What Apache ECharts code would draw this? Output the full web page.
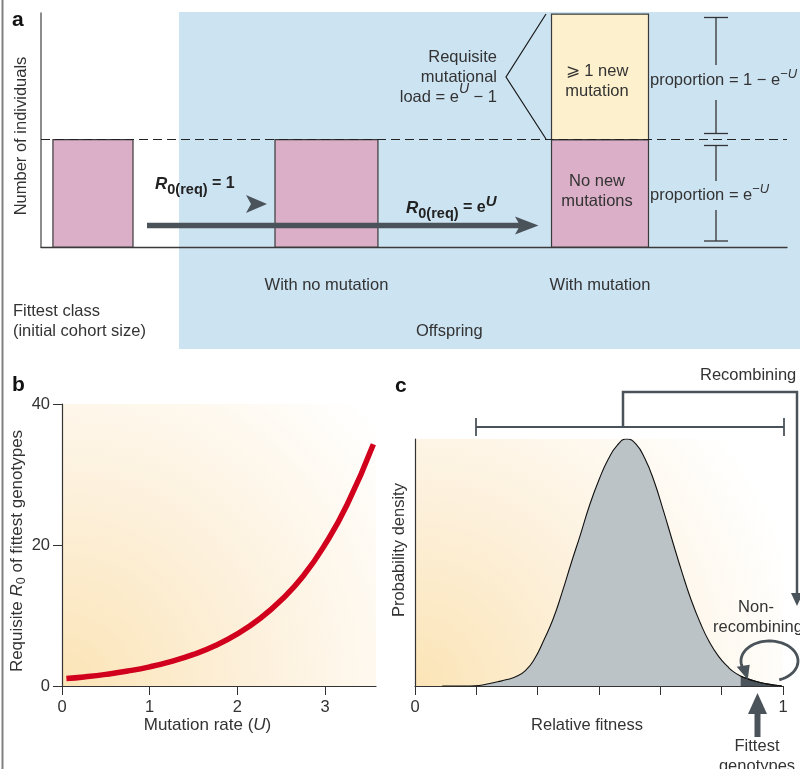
<!DOCTYPE html>
<html><head><meta charset="utf-8">
<script src="https://cdn.jsdelivr.net/npm/echarts@6/dist/echarts.min.js"></script>
<style>html,body{margin:0;padding:0;background:#fff}#chart{width:800px;height:769px}</style>
</head><body><div id="chart"></div>
<script>
// ---------- Panel a : cohort sizes ----------
const stageNames = ['Fittest class\n(initial cohort size)', 'With no mutation', 'With mutation'];
const noNewMutationCount = [1, 1, 1];
const newMutationCount = [0, 0, 1.17];

// ---------- Panel b : requisite R0 vs mutation rate ----------
const mutationRate = [0.05, 0.25, 0.5, 0.75, 1, 1.25, 1.5, 1.75, 2, 2.25, 2.5, 2.75, 3, 3.25, 3.55];
const requisiteR0 = [1.05, 1.28, 1.65, 2.12, 2.72, 3.5, 4.48, 5.75, 7.4, 9.5, 12.2, 15.6, 20.1, 25.7, 34.3];
const bXTicks = [0, 1, 2, 3];

// ---------- Panel c : fitness distribution ----------
const relFitness = [0.074, 0.1, 0.125, 0.15, 0.175, 0.2, 0.225, 0.25, 0.275, 0.3, 0.325, 0.35, 0.375, 0.4, 0.425, 0.45, 0.475, 0.5, 0.525, 0.55, 0.575, 0.6, 0.625, 0.65, 0.675, 0.7, 0.725, 0.75, 0.775, 0.8, 0.825, 0.85, 0.865, 0.885, 0.9, 0.925, 0.95, 0.975, 0.997];
const probDensity = [0, 0, 0, 0, 0.002, 0.009, 0.017, 0.026, 0.038, 0.062, 0.11, 0.185, 0.27, 0.38, 0.5, 0.615, 0.735, 0.835, 0.918, 0.975, 1.0, 0.98, 0.92, 0.828, 0.71, 0.585, 0.463, 0.35, 0.256, 0.178, 0.12, 0.078, 0.058, 0.04, 0.031, 0.019, 0.01, 0.004, 0];
const fittestFrom = 0.885;
const cTicks = [0, 1/6, 2/6, 3/6, 4/6, 5/6, 1];
const cLabels = [0, 1];

// ---------- styling ----------
const FONT = "'Liberation Sans', Arial, Helvetica, sans-serif";
const INK = '#333';
const DARK = '#4b535a';
const FS = 16.5;
// per-stage bar placement within its category band (layout only)
const stageLayout = [{shift: -0.291, width: 0.322}, {shift: -0.352, width: 0.414}, {shift: -0.252, width: 0.39}];

function bgGrad(r) {
  return {type: 'radial', x: 0, y: 1, r: r, colorStops: [
    {offset: 0, color: '#fbe4b6'}, {offset: 0.45, color: '#fdf0da'}, {offset: 1, color: '#ffffff'}]};
}

const zrRich = {
  t: {fontSize: FS, fontFamily: FONT, fill: INK, lineHeight: 20},
  ti: {fontSize: FS, fontFamily: FONT, fill: INK, lineHeight: 20, fontStyle: 'italic'},
  sup: {fontSize: 13, fontFamily: FONT, fill: INK, lineHeight: 13, verticalAlign: 'top', padding: [-2, 0, 0, 0]},
  supi: {fontSize: 13, fontFamily: FONT, fill: INK, lineHeight: 13, verticalAlign: 'top', fontStyle: 'italic', padding: [-2, 0, 0, 0]},
  supH: {fontSize: 14, fontFamily: FONT, fill: INK, lineHeight: 14, verticalAlign: 'top', fontStyle: 'italic', padding: [-4.5, 0, 0, 0]},
  R: {fontSize: 17, fontWeight: 'bold', fontStyle: 'italic', fontFamily: FONT, fill: '#222', lineHeight: 22},
  sub: {fontSize: 14.5, fontWeight: 'bold', fontFamily: FONT, fill: '#222', lineHeight: 14, verticalAlign: 'bottom', padding: [0, 0, -2.5, 0]},
  b: {fontSize: 16, fontWeight: 'bold', fontFamily: FONT, fill: '#222', lineHeight: 22},
  bsup: {fontSize: 15, fontWeight: 'bold', fontStyle: 'italic', fontFamily: FONT, fill: '#222', lineHeight: 14, verticalAlign: 'top', padding: [-3, 0, 0, 0]}
};

function renderStage(params, api) {
  const i = api.value(0);
  const v0 = api.value(1), v1 = api.value(2);
  const base = api.coord([i, 0]);
  const band = api.size([1, 0])[0];
  const lay = stageLayout[i];
  const w = band * lay.width;
  const cx = base[0] + band * lay.shift;
  const x = cx - w / 2;
  const y1 = api.coord([i, v0])[1];
  const y2 = api.coord([i, v0 + v1])[1];
  const txtStyle = {fontSize: FS, fontFamily: FONT, fill: INK, lineHeight: 20, align: 'center', verticalAlign: 'middle'};
  const children = [{type: 'rect', shape: {x: x, y: y1, width: w, height: base[1] - y1},
    style: {fill: '#dbafc7', stroke: '#3a3a3a', lineWidth: 1.2}}];
  if (v1 > 0) {
    children.push({type: 'rect', shape: {x: x, y: y2, width: w, height: y1 - y2},
      style: {fill: '#fdf0cd', stroke: '#3a3a3a', lineWidth: 1.2}});
    children.push({type: 'text', style: Object.assign({}, txtStyle, {text: '\u2A7E 1 new\nmutation', x: cx - 3, y: (y1 + y2) / 2 + 5})});
    children.push({type: 'text', style: Object.assign({}, txtStyle, {text: 'No new\nmutations', x: cx - 3, y: (y1 + base[1]) / 2 - 1.5})});
  }
  if (i === 0) {
    children.push({type: 'text', style: Object.assign({}, txtStyle, {text: stageNames[i], x: x - 40, y: base[1] + 74, align: 'left'})});
  } else {
    children.push({type: 'text', style: Object.assign({}, txtStyle, {text: stageNames[i], x: cx, y: base[1] + 38})});
  }
  return {type: 'group', children: children};
}

function txt(x, y, text, extra) {
  return {type: 'text', z: 20, style: Object.assign({x: x, y: y, text: text, fontSize: FS, fontFamily: FONT, fill: INK,
    align: 'left', verticalAlign: 'middle', rich: zrRich}, extra || {})};
}
function pline(points, stroke, w, z) {
  return {type: 'polyline', z: z == null ? 20 : z, shape: {points: points}, style: {stroke: stroke, lineWidth: w, fill: null}};
}
function poly(points, fill, z) {
  return {type: 'polygon', z: z == null ? 20 : z, shape: {points: points}, style: {fill: fill}};
}
function ellipseArc(cx, cy, rx, ry, a0, a1, n) {
  const pts = [];
  for (let k = 0; k <= n; k++) {
    const t = (a0 + (a1 - a0) * k / n) * Math.PI / 180;
    pts.push([cx + rx * Math.cos(t), cy + ry * Math.sin(t)]);
  }
  return pts;
}

const loopPts = ellipseArc(769.5, 661, 28.5, 20, 70, -200, 60);
const loopEnd = loopPts[loopPts.length - 1];

const graphics = [
  pline([[2.5, 0], [2.5, 769]], '#808080', 2, 1),
  {type: 'rect', z: -5, shape: {x: 179, y: 12, width: 621, height: 337}, style: {fill: '#cce3f2'}},
  txt(12, 20, 'a', {fontSize: 21, fontWeight: 'bold', fill: '#111'}),
  txt(12, 385, 'b', {fontSize: 21, fontWeight: 'bold', fill: '#111'}),
  txt(395, 386, 'c', {fontSize: 21, fontWeight: 'bold', fill: '#111'}),
  txt(416, 331, 'Offspring'),
  // arrows panel a
  pline([[147, 225.5], [521, 225.5]], DARK, 5.5),
  poly([[538.5, 225.5], [515, 216.5], [520, 225.5], [515, 234.5]], DARK),
  poly([[267, 204], [246, 195], [251, 204], [246, 213]], DARK),
  txt(155, 184, '{R|R}{sub|0(req)}{b| = 1}'),
  txt(406, 208, '{R|R}{sub|0(req)}{b| = e}{bsup|U}'),
  // requisite load
  txt(497, 77, '{t|Requisite}\n{t|mutational}\n{t|load = e}{supH|U}{t| \u2212 1}', {align: 'right'}),
  pline([[546, 14], [506, 77], [546, 139]], '#1a1a1a', 1.2),
  // proportion bars
  pline([[704, 17.5], [728, 17.5]], INK, 1.3), pline([[716, 17.5], [716, 65]], INK, 1.3),
  pline([[716, 100], [716, 133.5]], INK, 1.3), pline([[704, 133.5], [728, 133.5]], INK, 1.3),
  pline([[704, 145.5], [728, 145.5]], INK, 1.3), pline([[716, 145.5], [716, 181]], INK, 1.3),
  pline([[716, 210], [716, 241]], INK, 1.3), pline([[704, 241], [728, 241]], INK, 1.3),
  txt(650, 80, '{t|proportion = 1 \u2212 e}{sup|\u2212}{supi|U}'),
  txt(650, 195, '{t|proportion = e}{sup|\u2212}{supi|U}'),
  // panel c annotations
  pline([[476, 418], [476, 436]], DARK, 1.8), pline([[476, 427], [784, 427]], DARK, 1.8), pline([[784, 418], [784, 436]], DARK, 1.8),
  pline([[623, 427], [623, 392], [797, 392], [797, 596]], DARK, 2.5),
  poly([[797, 606], [791, 593], [803, 593]], DARK),
  txt(700, 375, 'Recombining'),
  txt(756, 607, 'Non-', {align: 'center'}),
  txt(713, 627, 'recombining'),
  pline(loopPts, DARK, 2.8),
  poly([[loopEnd[0] + 5, loopEnd[1] + 12], [loopEnd[0] - 6, loopEnd[1] - 1], [loopEnd[0] + 7, loopEnd[1] - 3]], DARK),
  pline([[757.5, 737], [757.5, 710]], DARK, 6),
  poly([[757.5, 693], [748, 714], [767, 714]], DARK),
  txt(757, 746, 'Fittest', {align: 'center'}),
  txt(757, 766, 'genotypes', {align: 'center'})
];

const axisNameRich = {
  t: {fontSize: 17, color: INK, fontFamily: FONT, lineHeight: 20},
  i: {fontSize: 17, color: INK, fontFamily: FONT, lineHeight: 20, fontStyle: 'italic'},
  s: {fontSize: 12.5, color: INK, fontFamily: FONT, lineHeight: 12, verticalAlign: 'bottom'}
};

const option = {
  animation: false,
  textStyle: {fontFamily: FONT},
  grid: [
    {left: 41, top: 13, width: 746, height: 234},
    {left: 62, top: 404, width: 314, height: 282, show: true, borderWidth: 0, backgroundColor: bgGrad(1.45)},
    {left: 415, top: 439, width: 368, height: 247, show: true, borderWidth: 0, backgroundColor: bgGrad(1.6)}
  ],
  xAxis: [
    {gridIndex: 0, type: 'category', data: stageNames, axisLine: {lineStyle: {color: '#3a3a3a', width: 1.3}},
      axisTick: {show: false}, axisLabel: {show: false}, splitLine: {show: false}},
    {gridIndex: 1, type: 'value', min: 0, max: 3.58, interval: 1,
      axisLine: {lineStyle: {color: INK, width: 1.2}},
      axisTick: {customValues: bXTicks, length: 9, lineStyle: {color: INK}},
      axisLabel: {customValues: bXTicks, fontSize: FS, color: INK, margin: 13},
      splitLine: {show: false},
      name: '{t|Mutation rate (}{i|U}{t|)}', nameLocation: 'middle', nameGap: 29,
      nameTextStyle: {padding: [0, 23, 0, 0], rich: axisNameRich}},
    {gridIndex: 2, type: 'value', min: 0, max: 1,
      axisLine: {lineStyle: {color: INK, width: 1.2}},
      axisTick: {customValues: cTicks, length: 9, lineStyle: {color: INK}},
      axisLabel: {customValues: cLabels, fontSize: FS, color: INK, margin: 13},
      splitLine: {show: false},
      name: 'Relative fitness', nameLocation: 'middle', nameGap: 28,
      nameTextStyle: {fontSize: FS, color: INK, padding: [0, 24, 0, 0]}}
  ],
  yAxis: [
    {gridIndex: 0, type: 'value', min: 0, max: 2.18,
      axisLine: {show: true, lineStyle: {color: '#666', width: 1.5}},
      axisTick: {show: false}, axisLabel: {show: false}, splitLine: {show: false},
      name: 'Number of individuals', nameLocation: 'middle', nameGap: 11,
      nameTextStyle: {fontSize: FS, color: INK, padding: [0, 12, 0, 0]}},
    {gridIndex: 1, type: 'value', min: 0, max: 40, interval: 20,
      axisLine: {show: true, lineStyle: {color: INK, width: 1.2}},
      axisTick: {show: true, length: 9, lineStyle: {color: INK}},
      axisLabel: {fontSize: FS, color: INK, margin: 12}, splitLine: {show: false},
      name: '{t|Requisite }{i|R}{s|0}{t| of fittest genotypes}', nameLocation: 'middle', nameGap: 30,
      nameTextStyle: {padding: [0, 12, 0, 0], rich: axisNameRich}},
    {gridIndex: 2, type: 'value', min: 0, max: 1,
      axisLine: {show: true, lineStyle: {color: INK, width: 1.2}},
      axisTick: {show: false}, axisLabel: {show: false}, splitLine: {show: false},
      name: 'Probability density', nameLocation: 'middle', nameGap: 7,
      nameTextStyle: {fontSize: FS, color: INK, padding: [0, 0, 0, 25]}}
  ],
  series: [
    {type: 'custom', xAxisIndex: 0, yAxisIndex: 0, renderItem: renderStage, z: 3,
      encode: {x: 0, y: 1},
      data: stageNames.map((s, i) => [i, noNewMutationCount[i], newMutationCount[i]])},
    {type: 'line', xAxisIndex: 0, yAxisIndex: 0, data: [], z: 4,
      markLine: {silent: true, symbol: ['none', 'none'], label: {show: false},
        lineStyle: {color: '#222', width: 1, type: [9, 5]}, data: [{yAxis: noNewMutationCount[0]}]}},
    {type: 'line', xAxisIndex: 1, yAxisIndex: 1, smooth: 0.5, showSymbol: false,
      lineStyle: {color: '#d1001c', width: 5.5},
      data: mutationRate.map((u, i) => [u, requisiteR0[i]])},
    {type: 'line', xAxisIndex: 2, yAxisIndex: 2, smooth: 0.5, showSymbol: false,
      lineStyle: {color: '#111', width: 1.1}, areaStyle: {color: '#bcc3c6', opacity: 1},
      data: relFitness.map((f, i) => [f, probDensity[i]])},
    {type: 'line', xAxisIndex: 2, yAxisIndex: 2, smooth: 0.5, showSymbol: false,
      lineStyle: {color: '#111', width: 1.1}, areaStyle: {color: '#4b545b', opacity: 1},
      data: relFitness.map((f, i) => [f, probDensity[i]]).filter(p => p[0] >= fittestFrom)}
  ],
  graphic: {elements: graphics}
};

const chart = echarts.init(document.getElementById('chart'), null, {renderer: 'canvas'});
chart.setOption(option);
</script></body></html>
